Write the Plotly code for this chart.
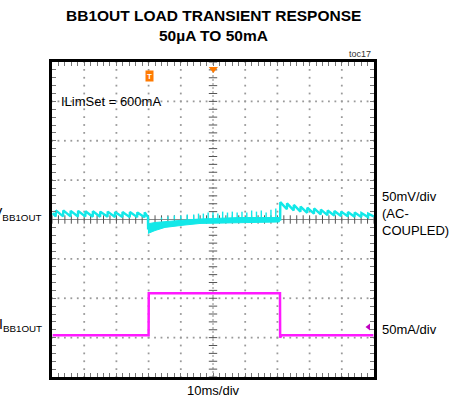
import plotly.graph_objects as go

# ---------------- data (x in ms, y in divisions) ----------------
# channel 1: V_BB1OUT (AC coupled, 50mV/div) -- sawtooth before load step
pre_peak_t = [-48.8, -46.5, -44.2, -41.9, -39.6, -37.3, -35.0, -32.7, -30.4, -28.1, -25.8, -23.5, -21.2]
pre_peak_v = [0.23, 0.23, 0.22, 0.22, 0.21, 0.21, 0.20, 0.20, 0.19, 0.19, 0.19, 0.18, 0.18]
pre_trough_v = [0.08, 0.08, 0.08, 0.075, 0.075, 0.07, 0.07, 0.07, 0.065, 0.065, 0.06, 0.06, 0.06]

# heavy-load section: noisy band envelope
band_t = [-20.2, -19.6, -18.0, -14.9, -8.7, -4.0, -0.3, 8.4, 14.6, 20.6]
band_hi = [-0.10, -0.10, -0.076, -0.05, -0.013, 0.013, 0.025, 0.05, 0.05, 0.05]
band_lo = [-0.354, -0.33, -0.28, -0.20, -0.14, -0.10, -0.09, -0.076, -0.076, -0.063]
spike_t = [-16, -14, -12, -10, -8, -6, -4.5, -3, -1.5, 0, 1.5, 3, 4.5, 6, 7.5, 9, 10.5, 12, 13.5, 15, 16.5, 18, 19.5]
spike_v = [0.05, 0.076, 0.10, 0.10, 0.127, 0.127, 0.15, 0.15, 0.177, 0.177, 0.15, 0.20, 0.177, 0.20, 0.177, 0.20, 0.177, 0.228, 0.20, 0.228, 0.177, 0.25, 0.28]

# after load release: decaying sawtooth
post_peak_t = [20.9, 23.0, 25.1, 27.2, 29.3, 31.4, 33.5, 35.6, 37.7, 39.8, 41.9, 44.0, 46.1, 48.2]
post_peak_v = [0.44, 0.41, 0.37, 0.33, 0.30, 0.28, 0.25, 0.23, 0.215, 0.20, 0.19, 0.177, 0.165, 0.15]
post_trough_v = [0.29, 0.26, 0.23, 0.20, 0.17, 0.15, 0.13, 0.11, 0.10, 0.09, 0.08, 0.07, 0.065, 0.06]

# channel 2: I_BB1OUT (50mA/div)
cur_t = [-49.8, -20.0, -19.95, 20.8, 20.85, 21.3, 49.8]
cur_v = [-2.94, -2.94, -1.87, -1.87, -3.0, -2.94, -2.94]

X_RANGE = [-50, 50]
Y_RANGE = [-4, 4]

W, H = 461, 403
L, R, T, B = 52, 374, 62, 377  # plot area in px

CYAN = "#12e8e8"
MAG = "#ff19ff"
ORANGE = "#ff7a00"
GRID = "#9a9a9a"


def px(xp):
    return (xp - L) / (R - L)


def py(yp):
    return (B - yp) / (B - T)


fig = go.Figure()

# ----- dotted grid made of dots at minor positions -----
gx, gy = [], []
for k in range(-4, 5):
    if k == 0:
        continue
    for m in range(0, 41):
        gx.append(k * 10)
        gy.append(-4 + m * 0.2)
for k in range(-3, 4):
    if k == 0:
        continue
    for m in range(0, 51):
        gx.append(-50 + m * 2)
        gy.append(k)
fig.add_trace(go.Scatter(x=gx, y=gy, mode="markers",
                         marker=dict(size=1.8, color=GRID, symbol="square"),
                         hoverinfo="skip", showlegend=False))

# centre lines with ticks
fig.add_trace(go.Scatter(x=X_RANGE, y=[0, 0], mode="lines", line=dict(color="#8a8a8a", width=1),
                         hoverinfo="skip", showlegend=False))
fig.add_trace(go.Scatter(x=[0, 0], y=Y_RANGE, mode="lines", line=dict(color="#8a8a8a", width=1, dash="2px,2px"),
                         hoverinfo="skip", showlegend=False))
tx = [-50 + m * 2 for m in range(51)]
fig.add_trace(go.Scatter(x=tx, y=[0] * len(tx), mode="markers",
                         marker=dict(symbol="line-ns", size=6, line=dict(color="#555", width=1)),
                         hoverinfo="skip", showlegend=False))
ty = [-4 + m * 0.2 for m in range(41)]
fig.add_trace(go.Scatter(x=[0] * len(ty), y=ty, mode="markers",
                         marker=dict(symbol="line-ew", size=6, line=dict(color="#555", width=1)),
                         hoverinfo="skip", showlegend=False))

# ----- channel 2 current -----
fig.add_trace(go.Scatter(x=cur_t, y=cur_v, mode="lines", line=dict(color=MAG, width=2.5),
                         hoverinfo="skip", showlegend=False))

# ----- channel 1 voltage -----
vx, vy = [-49.8], [0.16]
for t, pk, tr in zip(pre_peak_t, pre_peak_v, pre_trough_v):
    vx += [t - 0.05, t]
    vy += [tr, pk]
vx += [-20.2, -20.15]
vy += [0.06, band_lo[0] + 0.1]
fig.add_trace(go.Scatter(x=vx, y=vy, mode="lines", line=dict(color=CYAN, width=2.4),
                         hoverinfo="skip", showlegend=False))

fig.add_trace(go.Scatter(x=band_t + band_t[::-1], y=band_hi + band_lo[::-1], mode="lines",
                         fill="toself", fillcolor=CYAN, line=dict(color=CYAN, width=1),
                         hoverinfo="skip", showlegend=False))
sx, sy = [], []
for t, v in zip(spike_t, spike_v):
    sx += [t, t, None]
    sy += [0.0, v, None]
fig.add_trace(go.Scatter(x=sx, y=sy, mode="lines", line=dict(color=CYAN, width=1.4),
                         hoverinfo="skip", showlegend=False))

wx, wy = [20.6, 20.85], [0.0, 0.0]
for t, pk, tr in zip(post_peak_t, post_peak_v, post_trough_v):
    wx += [t - 0.05, t]
    wy += [tr, pk]
wy[2] = 0.0
wx.append(49.9)
wy.append(0.08)
fig.add_trace(go.Scatter(x=wx, y=wy, mode="lines", line=dict(color=CYAN, width=2.4),
                         hoverinfo="skip", showlegend=False))

# ----- markers -----
fig.add_trace(go.Scatter(x=[0.1], y=[3.82], mode="markers",
                         marker=dict(symbol="triangle-down", size=8, color=ORANGE),
                         hoverinfo="skip", showlegend=False))
fig.add_trace(go.Scatter(x=[48.3], y=[-2.73], mode="markers",
                         marker=dict(symbol="triangle-left", size=6, color="#c000c0"),
                         hoverinfo="skip", showlegend=False))

ann = []
FONT = "Liberation Sans, Arial, sans-serif"
ann.append(dict(x=px(213), y=py(15), text="<b>BB1OUT LOAD TRANSIENT RESPONSE</b>",
                font=dict(family=FONT, size=15.5, color="black")))
ann.append(dict(x=px(213), y=py(35), text="<b>50µA TO 50mA</b>",
                font=dict(family=FONT, size=15.5, color="black")))
ann.append(dict(x=px(373), y=py(54), text="toc17", xanchor="right",
                font=dict(family=FONT, size=9, color="#333")))
ann.append(dict(x=px(59), y=py(101), text="ILimSet = 600mA", xanchor="left",
                font=dict(family=FONT, size=13, color="black")))
ann.append(dict(x=px(44), y=py(214), text="V<sub>BB1OUT</sub>", xanchor="right",
                font=dict(family=FONT, size=14, color="black")))
ann.append(dict(x=px(44), y=py(325), text="I<sub>BB1OUT</sub>", xanchor="right",
                font=dict(family=FONT, size=14, color="black")))
ann.append(dict(x=px(380), y=py(213), text="50mV/div<br>(AC-<br>COUPLED)", xanchor="left", align="left",
                font=dict(family=FONT, size=13, color="black")))
ann.append(dict(x=px(380), y=py(329), text="50mA/div", xanchor="left",
                font=dict(family=FONT, size=13, color="black")))
ann.append(dict(x=px(213), y=py(390), text="10ms/div",
                font=dict(family=FONT, size=13, color="black")))
ann.append(dict(x=px(149.5), y=py(76.5), text="<b>T</b>", bgcolor=ORANGE, borderpad=0,
                font=dict(family=FONT, size=8, color="white"), width=7, height=10))
for a in ann:
    a.update(xref="paper", yref="paper", showarrow=False)
    a.setdefault("xanchor", "center")
    a.setdefault("yanchor", "middle")

axis_common = dict(showline=True, linewidth=3, linecolor="black", mirror="ticks",
                   ticks="inside", ticklen=4, tickcolor="#777", tickwidth=1,
                   showgrid=False, zeroline=False, showticklabels=False, fixedrange=True)
fig.update_layout(
    width=W, height=H,
    margin=dict(l=L, r=W - R, t=T, b=H - B, pad=0),
    paper_bgcolor="white", plot_bgcolor="white",
    xaxis=dict(range=X_RANGE, dtick=2, tick0=0, **axis_common),
    yaxis=dict(range=Y_RANGE, dtick=0.2, tick0=0, **axis_common),
    annotations=ann,
    showlegend=False,
)

fig.write_html("out.html")
